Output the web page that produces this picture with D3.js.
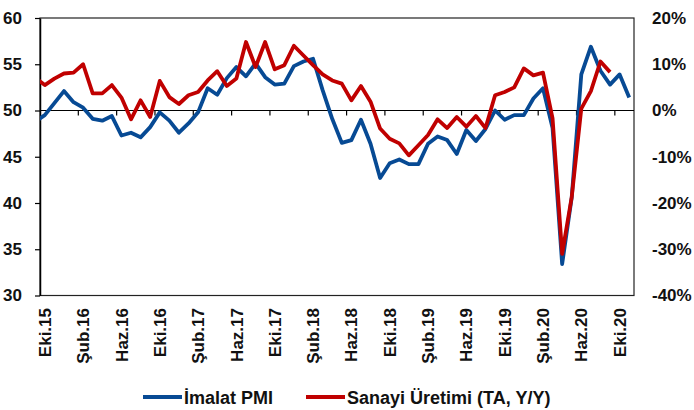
<!DOCTYPE html>
<html>
<head>
<meta charset="utf-8">
<script src="https://cdn.jsdelivr.net/npm/d3@7"></script>
<style>
  body { margin: 0; background: #fff; }
  text { font-family: "Liberation Sans", Arial, sans-serif; font-weight: bold; }
</style>
</head>
<body>
<svg width="694" height="410"></svg>
<script>
// Months from Eyl.15 (only partly visible at the left edge) to Kas.20
const categories = [
  "Eyl.15", "Eki.15", "Kas.15", "Ara.15",
  "Oca.16", "Şub.16", "Mar.16", "Nis.16", "May.16", "Haz.16", "Tem.16", "Ağu.16", "Eyl.16", "Eki.16", "Kas.16", "Ara.16",
  "Oca.17", "Şub.17", "Mar.17", "Nis.17", "May.17", "Haz.17", "Tem.17", "Ağu.17", "Eyl.17", "Eki.17", "Kas.17", "Ara.17",
  "Oca.18", "Şub.18", "Mar.18", "Nis.18", "May.18", "Haz.18", "Tem.18", "Ağu.18", "Eyl.18", "Eki.18", "Kas.18", "Ara.18",
  "Oca.19", "Şub.19", "Mar.19", "Nis.19", "May.19", "Haz.19", "Tem.19", "Ağu.19", "Eyl.19", "Eki.19", "Kas.19", "Ara.19",
  "Oca.20", "Şub.20", "Mar.20", "Nis.20", "May.20", "Haz.20", "Tem.20", "Ağu.20", "Eyl.20", "Eki.20", "Kas.20"
];

const tickLabels = [
  "Eki.15", "Şub.16", "Haz.16", "Eki.16", "Şub.17", "Haz.17", "Eki.17", "Şub.18",
  "Haz.18", "Eki.18", "Şub.19", "Haz.19", "Eki.19", "Şub.20", "Haz.20", "Eki.20"
];

// İmalat PMI (left axis)
const pmi = [
  48.8, 49.5, 50.8, 52.1,
  50.9, 50.3, 49.1, 48.9, 49.4, 47.3, 47.6, 47.1, 48.2, 49.8, 48.9, 47.6,
  48.6, 49.8, 52.4, 51.7, 53.5, 54.7, 53.7, 55.1, 53.6, 52.8, 52.9, 54.8,
  55.3, 55.6, 52.2, 49.1, 46.5, 46.8, 49.0, 46.4, 42.7, 44.3, 44.7, 44.2,
  44.2, 46.4, 47.2, 46.8, 45.3, 47.9, 46.7, 48.0, 50.0, 49.0, 49.5, 49.5,
  51.3, 52.4, 48.1, 33.4, 40.6, 53.9, 56.9, 54.3, 52.8, 53.9, 51.4
];

// Sanayi Üretimi (TA, Y/Y), % (right axis)
const ip = [
  7.1, 5.5, 6.9, 8.0,
  8.2, 10.0, 3.7, 3.7, 5.5, 2.8, -1.9, 2.2, -1.4, 6.4, 2.9, 1.4,
  3.3, 4.0, 6.5, 8.5, 5.3, 6.9, 14.8, 9.4, 14.8, 8.9, 9.8, 14.0,
  11.9, 9.8, 7.8, 6.5, 5.8, 2.2, 5.3, 1.9, -3.9, -6.1, -7.1, -9.7,
  -7.5, -5.3, -1.9, -3.8, -1.4, -3.5, -1.2, -3.8, 3.3, 4.0, 5.0, 9.1,
  7.6, 8.2, -1.7, -31.0, -18.7, 0.4, 4.2, 10.6, 8.3, null, null
];

const leftTicks = [30, 35, 40, 45, 50, 55, 60];
const rightTicks = [-40, -30, -20, -10, 0, 10, 20];

const plot = { left: 40, right: 634, top: 18, bottom: 295.5 };
const band = (plot.right - plot.left) / (categories.length - 1);

const svg = d3.select("svg");

const x = d3.scaleBand()
  .domain(categories)
  .range([plot.left - band, plot.right])
  .paddingInner(0).paddingOuter(0);

const yL = d3.scaleLinear().domain([30, 60]).range([plot.bottom, plot.top]);
const yR = d3.scaleLinear().domain([-40, 20]).range([plot.bottom, plot.top]);

const cx = (d) => x(d) + x.bandwidth() / 2;

// plot frame
svg.append("rect")
  .attr("x", plot.left).attr("y", plot.top)
  .attr("width", plot.right - plot.left).attr("height", plot.bottom - plot.top)
  .attr("fill", "none").attr("stroke", "#222").attr("stroke-width", 1.2);

// left axis
const gL = svg.append("g")
  .attr("transform", `translate(${plot.left},0)`)
  .call(d3.axisLeft(yL).tickValues(leftTicks).tickSize(5).tickPadding(13).tickSizeOuter(0));
gL.select(".domain").attr("stroke", "#000").attr("stroke-width", 1.5);
gL.selectAll(".tick line").attr("stroke", "#000").attr("stroke-width", 1.2);
gL.selectAll(".tick text").attr("font-size", 17).attr("fill", "#111")
  .attr("font-family", "Liberation Sans, Arial, sans-serif");

// right axis
const gR = svg.append("g")
  .attr("transform", `translate(${plot.right},0)`)
  .call(d3.axisRight(yR).tickValues(rightTicks).tickSize(0).tickPadding(18)
    .tickFormat((d) => d + "%"));
gR.select(".domain").remove();
gR.selectAll(".tick text").attr("font-size", 17).attr("fill", "#111")
  .attr("font-family", "Liberation Sans, Arial, sans-serif");

// horizontal axis on the 50 / 0% line
const y0 = yL(50);
svg.append("line")
  .attr("x1", plot.left).attr("x2", plot.right)
  .attr("y1", y0).attr("y2", y0)
  .attr("stroke", "#000").attr("stroke-width", 1.2);

svg.append("g")
  .selectAll("line")
  .data(tickLabels.slice(1))
  .join("line")
  .attr("x1", (d) => x(d)).attr("x2", (d) => x(d))
  .attr("y1", y0).attr("y2", y0 + 5)
  .attr("stroke", "#000").attr("stroke-width", 1.2);

svg.append("g")
  .selectAll("text")
  .data(tickLabels)
  .join("text")
  .attr("transform", (d) => `translate(${cx(d)},308) rotate(-90)`)
  .attr("dy", "0.36em")
  .attr("text-anchor", "end")
  .attr("font-size", 17)
  .attr("fill", "#111")
  .text((d) => d);

// lines
svg.append("clipPath").attr("id", "clip")
  .append("rect")
  .attr("x", plot.left).attr("y", 0)
  .attr("width", plot.right - plot.left).attr("height", 410);

const linePmi = d3.line()
  .x((d, i) => cx(categories[i]))
  .y((d) => yL(d));

const lineIp = d3.line()
  .defined((d) => d !== null)
  .x((d, i) => cx(categories[i]))
  .y((d) => yR(d));

const lines = svg.append("g").attr("clip-path", "url(#clip)");

lines.append("path")
  .datum(pmi)
  .attr("d", linePmi)
  .attr("fill", "none")
  .attr("stroke", "#074a94")
  .attr("stroke-width", 3.8)
  .attr("stroke-linejoin", "round");

lines.append("path")
  .datum(ip)
  .attr("d", lineIp)
  .attr("fill", "none")
  .attr("stroke", "#c00000")
  .attr("stroke-width", 3.8)
  .attr("stroke-linejoin", "round");

// legend
const legend = [
  { name: "İmalat PMI", color: "#074a94", x: 143 },
  { name: "Sanayi Üretimi (TA, Y/Y)", color: "#c00000", x: 306 }
];

const lg = svg.append("g")
  .selectAll("g")
  .data(legend)
  .join("g")
  .attr("transform", (d) => `translate(${d.x},397)`);

lg.append("line")
  .attr("x1", 0).attr("x2", 39)
  .attr("stroke", (d) => d.color)
  .attr("stroke-width", 3.8);

lg.append("text")
  .attr("x", 41)
  .attr("y", 6.5)
  .attr("font-size", 18)
  .attr("fill", "#111")
  .text((d) => d.name);
</script>
</body>
</html>
